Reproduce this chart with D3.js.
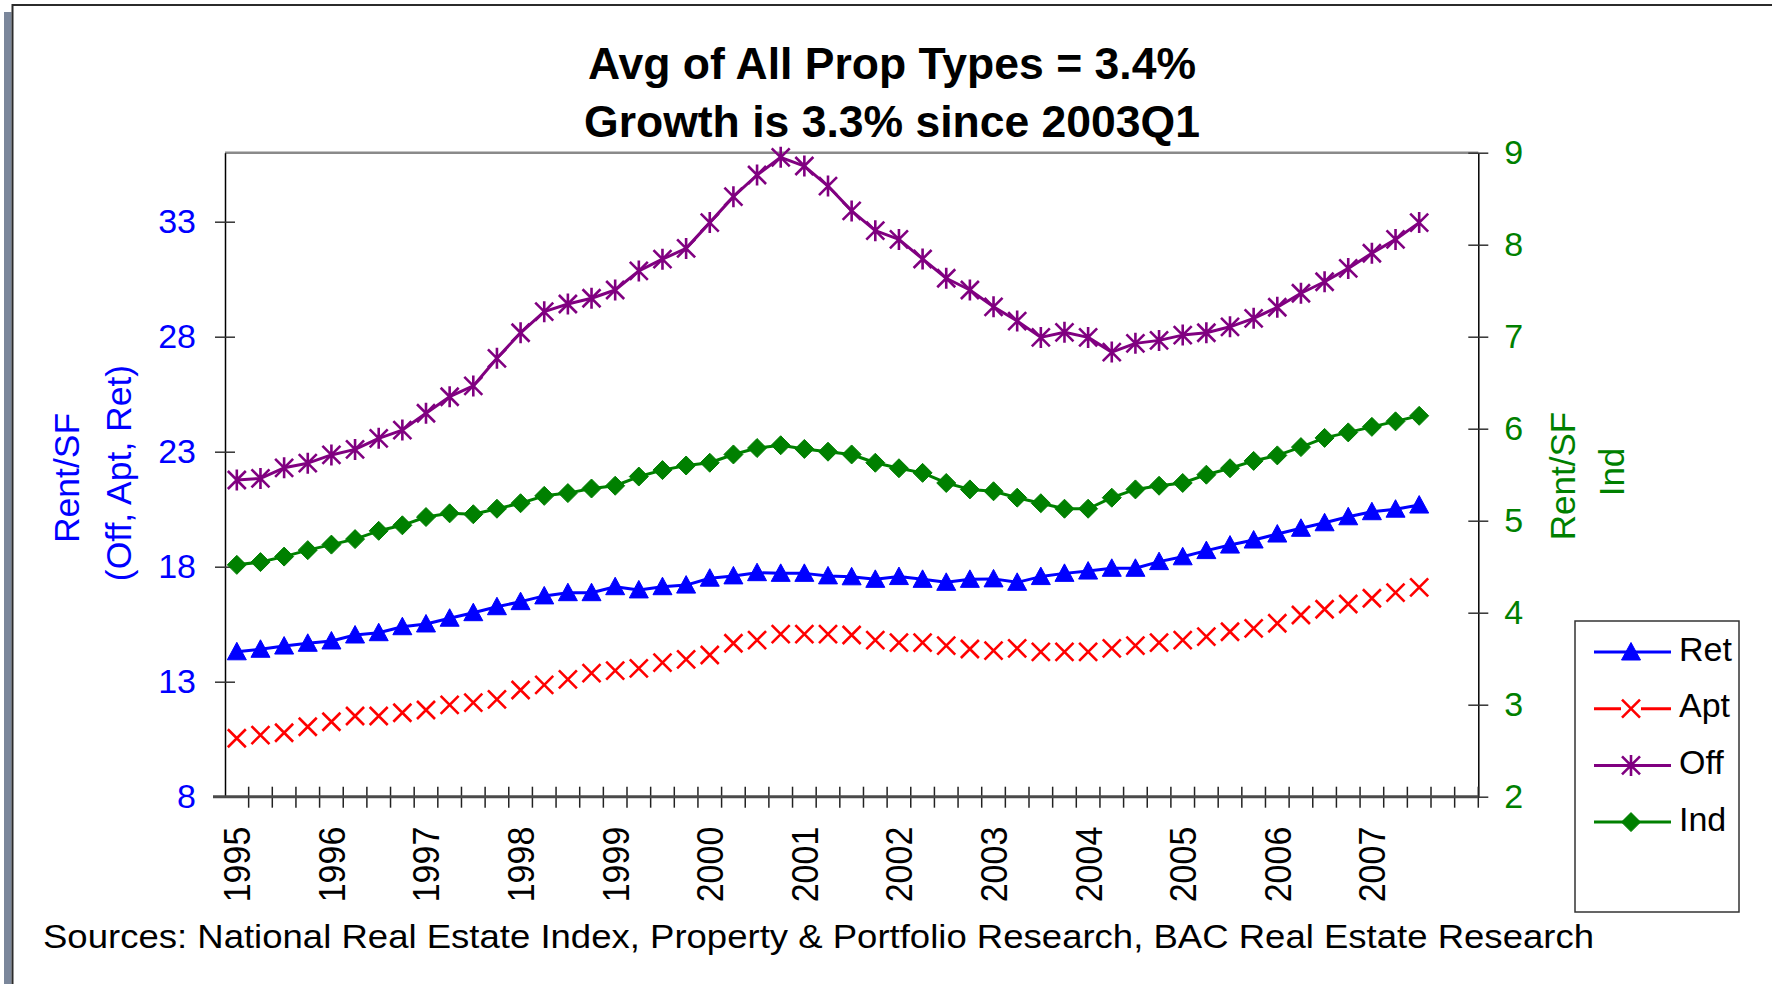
<!DOCTYPE html>
<html>
<head>
<meta charset="utf-8">
<script src="https://cdn.jsdelivr.net/npm/d3@7/dist/d3.min.js"></script>
<style>
  body { margin: 0; background: #ffffff; }
  text { font-family: "Liberation Sans", Arial, sans-serif; }
</style>
</head>
<body>
<div id="chart"></div>
<script>
// quarterly categories, 1995Q1 .. 2008Q1 (last two are empty slots on the axis)
var years = [1995, 1996, 1997, 1998, 1999, 2000, 2001, 2002, 2003, 2004, 2005, 2006, 2007, 2008];
var categories = [];
years.forEach(function(y) {
  ["Q1", "Q2", "Q3", "Q4"].forEach(function(q) { categories.push(y + q); });
});
categories = categories.slice(0, 53);

var yearLabels = ["1995", "1996", "1997", "1998", "1999", "2000", "2001",
                  "2002", "2003", "2004", "2005", "2006", "2007"];
var leftTicks = [8, 13, 18, 23, 28, 33];
var rightTicks = [2, 3, 4, 5, 6, 7, 8, 9];

// Rent/SF values, 1995Q1 .. 2007Q3
var ret = [14.30, 14.41, 14.55, 14.67, 14.77, 15.03, 15.13, 15.39, 15.51, 15.76,
           16.00, 16.26, 16.48, 16.73, 16.87, 16.87, 17.13, 16.99, 17.13, 17.20,
           17.50, 17.60, 17.74, 17.71, 17.71, 17.60, 17.56, 17.45, 17.57, 17.45,
           17.32, 17.45, 17.47, 17.32, 17.57, 17.71, 17.81, 17.93, 17.93, 18.22,
           18.43, 18.70, 18.94, 19.16, 19.42, 19.67, 19.91, 20.17, 20.39, 20.50, 20.68];
var apt = [10.54, 10.68, 10.78, 11.04, 11.26, 11.51, 11.51, 11.65, 11.77, 11.99,
           12.09, 12.23, 12.64, 12.86, 13.10, 13.37, 13.48, 13.58, 13.83, 13.97,
           14.16, 14.67, 14.81, 15.07, 15.07, 15.07, 15.03, 14.81, 14.70, 14.70,
           14.57, 14.42, 14.35, 14.45, 14.30, 14.30, 14.30, 14.45, 14.57, 14.70,
           14.81, 14.96, 15.17, 15.32, 15.54, 15.90, 16.15, 16.38, 16.63, 16.87, 17.10];
var off = [21.77, 21.84, 22.30, 22.50, 22.86, 23.10, 23.58, 23.94, 24.67, 25.39,
           25.86, 27.06, 28.17, 29.09, 29.42, 29.67, 30.03, 30.86, 31.37, 31.84,
           32.96, 34.09, 35.03, 35.80, 35.42, 34.55, 33.47, 32.61, 32.23, 31.38,
           30.54, 30.03, 29.30, 28.68, 27.97, 28.19, 27.97, 27.33, 27.71, 27.84,
           28.07, 28.17, 28.43, 28.80, 29.28, 29.89, 30.39, 30.97, 31.63, 32.23, 32.96];
var ind = [4.52, 4.55, 4.61, 4.68, 4.74, 4.80, 4.89, 4.95, 5.04, 5.08,
           5.07, 5.13, 5.19, 5.27, 5.30, 5.35, 5.38, 5.48, 5.55, 5.60,
           5.63, 5.72, 5.79, 5.82, 5.78, 5.75, 5.72, 5.63, 5.57, 5.52,
           5.41, 5.34, 5.32, 5.25, 5.19, 5.13, 5.13, 5.25, 5.34, 5.38,
           5.41, 5.50, 5.57, 5.65, 5.71, 5.80, 5.90, 5.96, 6.02, 6.08, 6.14];

var svgWidth = 1772;
var svgHeight = 984;
var margin = { top: 152.7, bottom: 187.3, left: 225, right: 293.7 };
var width = svgWidth - margin.left - margin.right;
var height = svgHeight - margin.top - margin.bottom;
var fontFamily = "Liberation Sans, Arial, sans-serif";

var svg = d3.select("#chart").append("svg")
  .attr("width", svgWidth)
  .attr("height", svgHeight);

// outer frame with the slate shadow bar on the left
svg.append("rect")
  .attr("x", 4).attr("y", 12).attr("width", 7.5).attr("height", svgHeight - 12)
  .attr("fill", "#7b879b");
svg.append("path")
  .attr("d", "M12.5," + svgHeight + "V5H" + svgWidth)
  .attr("fill", "none").attr("stroke", "#2b2b2b").attr("stroke-width", 2);

// title
var titleLines = ["Avg of All Prop Types = 3.4%", "Growth is 3.3% since 2003Q1"];
svg.selectAll(".title")
  .data(titleLines)
  .enter()
  .append("text")
  .attr("class", "title")
  .attr("x", 892)
  .attr("y", function(d, i) { return 79 + i * 58; })
  .attr("text-anchor", "middle")
  .attr("font-size", 44.5)
  .attr("font-weight", "bold")
  .attr("fill", "#000")
  .text(function(d) { return d; });

var chartGroup = svg.append("g")
  .attr("transform", `translate(${margin.left}, ${margin.top})`);

// scales
var xBandScale = d3.scaleBand().domain(categories).range([0, width]).padding(0);
var yLeftScale = d3.scaleLinear().domain([8, 36]).range([height, 0]);
var yRightScale = d3.scaleLinear().domain([2, 9]).range([height, 0]);
var xCenter = function(i) { return xBandScale(categories[i]) + xBandScale.bandwidth() / 2; };

// plot frame: grey top edge
chartGroup.append("line")
  .attr("x1", 0).attr("x2", width).attr("y1", 0).attr("y2", 0)
  .attr("stroke", "#8a8a8a").attr("stroke-width", 2.5);

// left axis
var leftAxis = d3.axisLeft(yLeftScale).tickValues(leftTicks).tickSize(10).tickSizeOuter(0).tickPadding(19);
var leftG = chartGroup.append("g").call(leftAxis);
leftG.select(".domain").attr("stroke", "#000").attr("stroke-width", 1.5);
leftG.selectAll(".tick line").attr("x1", 10).attr("stroke", "#333").attr("stroke-width", 1.5);
leftG.selectAll(".tick text")
  .attr("font-size", 34).attr("fill", "#0000ff").attr("font-family", fontFamily);

// right axis
var rightAxis = d3.axisRight(yRightScale).tickValues(rightTicks).tickFormat(d3.format("d"))
  .tickSize(10).tickSizeOuter(0).tickPadding(16);
var rightG = chartGroup.append("g").attr("transform", `translate(${width}, 0)`).call(rightAxis);
rightG.select(".domain").attr("stroke", "#000").attr("stroke-width", 1.5);
rightG.selectAll(".tick line").attr("x1", -10).attr("stroke", "#333").attr("stroke-width", 1.5);
rightG.selectAll(".tick text")
  .attr("font-size", 34).attr("fill", "#008000").attr("font-family", fontFamily);

// bottom axis: year labels on the Q1 categories
var bottomAxis = d3.axisBottom(xBandScale)
  .tickValues(yearLabels.map(function(y) { return y + "Q1"; }))
  .tickFormat(function(d) { return d.slice(0, 4); })
  .tickSize(0).tickSizeOuter(0);
var bottomG = chartGroup.append("g").attr("transform", `translate(0, ${height})`).call(bottomAxis);
bottomG.select(".domain").remove();
bottomG.selectAll(".tick text")
  .attr("transform", "scale(1.1, 1) rotate(-90)")
  .attr("x", -30).attr("y", 0).attr("dy", "0.36em")
  .attr("text-anchor", "end")
  .attr("font-size", 34).attr("fill", "#000").attr("font-family", fontFamily);

// category boundary ticks crossing the x axis
var boundaries = categories.map(function(c) { return xBandScale(c); }).concat([width]);
chartGroup.append("g").selectAll("line")
  .data(boundaries.slice(1))
  .enter()
  .append("line")
  .attr("x1", function(d) { return d; }).attr("x2", function(d) { return d; })
  .attr("y1", height - 10).attr("y2", height + 11)
  .attr("stroke", "#222").attr("stroke-width", 1.5);
chartGroup.append("line")
  .attr("x1", -12).attr("x2", width).attr("y1", height).attr("y2", height)
  .attr("stroke", "#4a4a4a").attr("stroke-width", 3);

// marker shapes
var markerPaths = {
  triangle: "M0,-9.5L9.5,8L-9.5,8Z",
  diamond: "M0,-9.5L9.5,0L0,9.5L-9.5,0Z",
  cross: "M-9,-9L9,9M-9,9L9,-9",
  star: "M-9,-9L9,9M-9,9L9,-9M0,-10.5V10.5"
};

var seriesList = [
  { name: "Ret", values: ret, scale: yLeftScale, color: "#0000ff", marker: "triangle", filled: true, line: true },
  { name: "Apt", values: apt, scale: yLeftScale, color: "#ff0000", marker: "cross", filled: false, line: false },
  { name: "Off", values: off, scale: yLeftScale, color: "#800080", marker: "star", filled: false, line: true },
  { name: "Ind", values: ind, scale: yRightScale, color: "#008000", marker: "diamond", filled: true, line: true }
];

seriesList.forEach(function(s) {
  var lineGen = d3.line()
    .x(function(d, i) { return xCenter(i); })
    .y(function(d) { return s.scale(d); });

  if (s.line) {
    chartGroup.append("path")
      .datum(s.values)
      .attr("d", lineGen)
      .attr("fill", "none")
      .attr("stroke", s.color)
      .attr("stroke-width", 3)
      .attr("stroke-linejoin", "round");
  }

  chartGroup.append("g").selectAll("path")
    .data(s.values)
    .enter()
    .append("path")
    .attr("transform", function(d, i) { return `translate(${xCenter(i)}, ${s.scale(d)})`; })
    .attr("d", markerPaths[s.marker])
    .attr("fill", s.filled ? s.color : "none")
    .attr("stroke", s.color)
    .attr("stroke-width", s.filled ? 1 : 2.6);
});

// axis titles
var leftTitle = ["Rent/SF", "(Off, Apt, Ret)"];
svg.selectAll(".ltitle")
  .data(leftTitle)
  .enter()
  .append("text")
  .attr("transform", function(d, i) { return `translate(${79 + i * 52}, ${478 - i * 5}) rotate(-90)`; })
  .attr("text-anchor", "middle")
  .attr("font-size", 35.5)
  .attr("fill", "#0000ff")
  .text(function(d) { return d; });

var rightTitle = ["Rent/SF", "Ind"];
svg.selectAll(".rtitle")
  .data(rightTitle)
  .enter()
  .append("text")
  .attr("transform", function(d, i) { return `translate(${1575 + i * 49}, ${476 - i * 4}) rotate(-90)`; })
  .attr("text-anchor", "middle")
  .attr("font-size", 35)
  .attr("fill", "#008000")
  .text(function(d) { return d; });

// legend
var legend = svg.append("g").attr("transform", "translate(1575, 621)");
legend.append("rect")
  .attr("width", 164).attr("height", 291)
  .attr("fill", "#fff").attr("stroke", "#333").attr("stroke-width", 1.5);

var legendItems = legend.selectAll(".item")
  .data(seriesList)
  .enter()
  .append("g")
  .attr("transform", function(d, i) { return `translate(0, ${31 + i * 56.7})`; });

legendItems.append("line")
  .attr("x1", 19).attr("x2", 96).attr("y1", 0).attr("y2", 0)
  .attr("stroke", function(d) { return d.color; })
  .attr("stroke-width", 3);
// the Apt cross sits in a small gap of its legend line
legendItems.filter(function(d) { return d.marker === "cross"; })
  .append("rect")
  .attr("x", 46).attr("y", -6).attr("width", 20).attr("height", 12)
  .attr("fill", "#fff");
legendItems.append("path")
  .attr("transform", "translate(56, 0)")
  .attr("d", function(d) { return markerPaths[d.marker]; })
  .attr("fill", function(d) { return d.filled ? d.color : "none"; })
  .attr("stroke", function(d) { return d.color; })
  .attr("stroke-width", function(d) { return d.filled ? 1 : 2.6; });
legendItems.append("text")
  .attr("x", 104).attr("y", 8.5)
  .attr("font-size", 34)
  .attr("fill", "#000")
  .text(function(d) { return d.name; });

// source note
svg.append("text")
  .attr("x", 43).attr("y", 948)
  .attr("font-size", 33.5)
  .attr("textLength", 1551)
  .attr("lengthAdjust", "spacingAndGlyphs")
  .attr("fill", "#000")
  .text("Sources: National Real Estate Index, Property & Portfolio Research, BAC Real Estate Research");
</script>
</body>
</html>
